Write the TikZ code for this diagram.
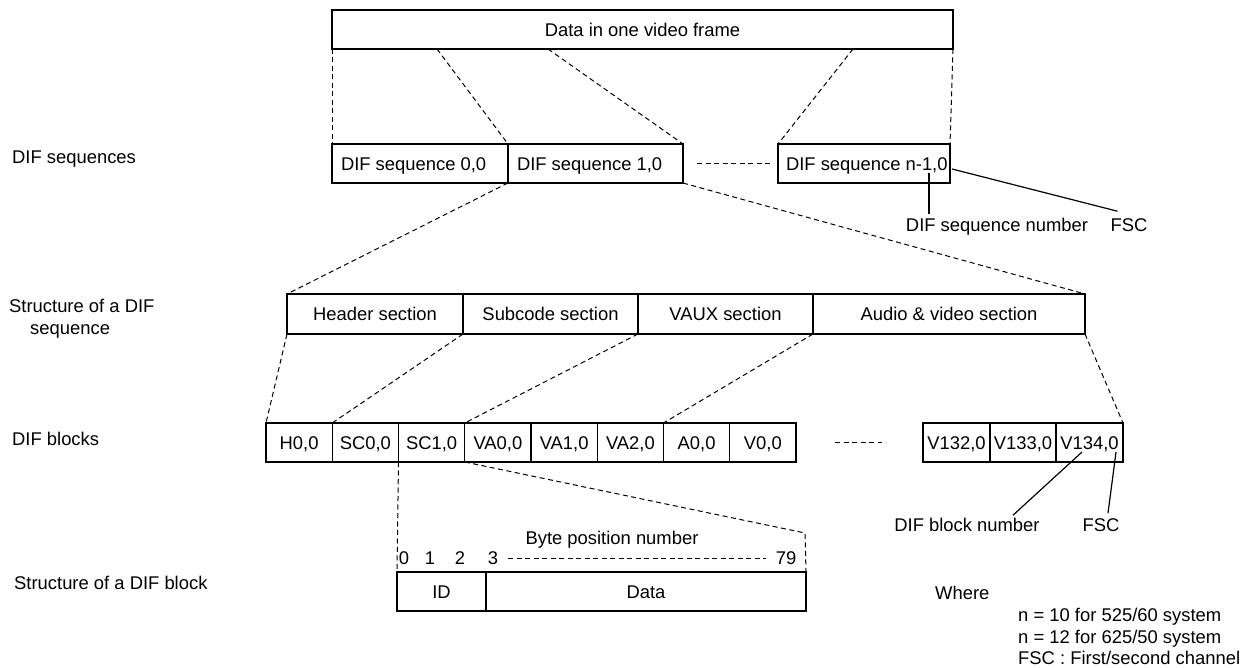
\documentclass[tikz,border=0pt]{standalone}
\usepackage{fontspec}
\setmainfont{Liberation Sans}
\usetikzlibrary{calc}
\begin{document}
\begin{tikzpicture}[x=1pt,y=-1pt,
  every node/.style={font=\fontsize{18.4pt}{22pt}\selectfont},
  txt/.style={inner sep=0pt, text height=13.2pt, text depth=0pt},
  cell/.style={draw, line width=1.3pt, anchor=north west, inner sep=0pt, outer sep=0pt,
               text height=13.2pt, text depth=0pt},
  guide/.style={dash pattern=on 5pt off 3.5pt, line width=1pt},
  pointer/.style={line width=1.2pt}]
\useasboundingbox (0,0) rectangle (1255,668);

% ---- row labels ----
\node[txt, anchor=west] (lseq) at (12,157) {DIF sequences};
\node[inner sep=0pt, anchor=north west, align=left] (lstruct) at (9,298.5)
  {Structure of a DIF\\\hspace*{21pt}sequence};
\node[txt, anchor=west] (lblk) at (12,439) {DIF blocks};
\node[txt, anchor=west] (lblkstruct) at (14,583) {Structure of a DIF block};

% ---- whole frame ----
\node[cell, minimum width=621pt, minimum height=39pt] (frame) at (332,10) {Data in one video frame};

% ---- DIF sequences ----
\node[cell, minimum width=176pt, minimum height=39pt] (s0) at (332,144) {\makebox[158pt][l]{DIF sequence 0,0}};
\node[cell, minimum width=175pt, minimum height=39pt] (s1) at (508,144) {\makebox[157pt][l]{DIF sequence 1,0}};
\node[cell, minimum width=172pt, minimum height=39pt] (sn) at (778,144) {\makebox[156pt][l]{DIF sequence n-1,0}};

\draw[guide] (frame.south west) -- (s0.north west);
\draw[guide] ($(frame.south west)+(105,0)$) -- (s0.north east);
\draw[guide] ($(frame.south west)+(216,0)$) -- (s1.north east);
\draw[guide] ($(frame.south west)+(521,0)$) -- (sn.north west);
\draw[guide] (frame.south east) -- (sn.north east);
\draw[guide] ([xshift=14pt]s1.east) -- ([xshift=-6pt]sn.west);

% sequence number / FSC callouts
\coordinate (numtip) at (929,173);
\coordinate (fsctip) at (952,169);
\node[txt] (seqnum) at (997,225) {DIF sequence number};
\node[txt] (seqfsc) at (1129,225) {FSC};
\draw[pointer] (numtip) -- ($(numtip |- seqnum.north)+(0,-4)$);
\draw[pointer] (fsctip) -- ($(seqfsc.north west)+(7,-7)$);

% ---- sections of one DIF sequence ----
\node[cell, minimum width=176pt, minimum height=40pt] (hdr)  at (287,294) {Header section};
\node[cell, minimum width=175pt, minimum height=40pt] (sub)  at (463,294) {Subcode section};
\node[cell, minimum width=175pt, minimum height=40pt] (vaux) at (638,294) {VAUX section};
\node[cell, minimum width=272pt, minimum height=40pt] (av)   at (813,294) {Audio \& video section};

\draw[guide] (s1.south west) -- (hdr.north west);
\draw[guide] (s1.south east) -- (av.north east);

% ---- DIF blocks ----
\foreach \t [count=\i from 0] in {{H0,0},{SC0,0},{SC1,0},{VA0,0},{VA1,0},{VA2,0},{A0,0},{V0,0}}
  \node[cell, minimum width=66.25pt, minimum height=39pt] (b\i) at (266+66.25*\i,423) {\t};
\node[cell, minimum width=67pt, minimum height=39pt] (v132) at (923,423) {V132,0};
\node[cell, minimum width=66pt, minimum height=39pt] (v133) at (990,423) {V133,0};
\node[cell, minimum width=67pt, minimum height=39pt] (v134) at (1056,423) {V134,0};
\draw[guide] ([xshift=39pt]b7.east) -- ([xshift=-41pt]v132.west);

\draw[guide] (hdr.south west)  -- (b0.north west);
\draw[guide] (sub.south west)  -- (b1.north west);
\draw[guide] (vaux.south west) -- (b3.north west);
\draw[guide] (av.south west)   -- (b6.north west);
\draw[guide] (av.south east)   -- (v134.north east);

% block number / FSC callouts
\coordinate (bnumtip) at (1082,452);
\coordinate (bfsctip) at (1116,452);
\node[txt] (blknum) at (967,525) {DIF block number};
\node[txt] (blkfsc) at (1101,525) {FSC};
\draw[pointer] (bnumtip) -- ($(blknum.north)+(46,-3)$);
\draw[pointer] (bfsctip) -- ($(blkfsc.north)+(7,-5)$);

% ---- structure of one DIF block ----
\node[cell, minimum width=89pt,  minimum height=39pt] (id)   at (397,572) {ID};
\node[cell, minimum width=320pt, minimum height=39pt] (data) at (486,572) {Data};
\node[txt] (bytepos) at (612,538) {Byte position number};
\node[txt] (d0)  at (404,558) {0};
\node[txt] (d1)  at (430,558) {1};
\node[txt] (d2)  at (460,558) {2};
\node[txt] (d3)  at (493,558) {3};
\node[txt] (d79) at (786,558) {79};
\draw[guide] ([xshift=10pt]d3.east) -- ([xshift=-10pt]d79.west);

\coordinate (bend) at (805,533);
\draw[guide] (b2.south west) -- (id.north west);
\draw[guide] (b3.south west) -- (bend) -- (data.north east);

% ---- notes ----
\node[txt, anchor=west] (where) at (935,593) {Where};
\node[inner sep=0pt, anchor=north west, align=left, font=\fontsize{18.4pt}{21.5pt}\selectfont] (notes) at (1018,608.4)
  {n = 10 for 525/60 system\\n = 12 for 625/50 system\\FSC : First/second channel};
\end{tikzpicture}
\end{document}
